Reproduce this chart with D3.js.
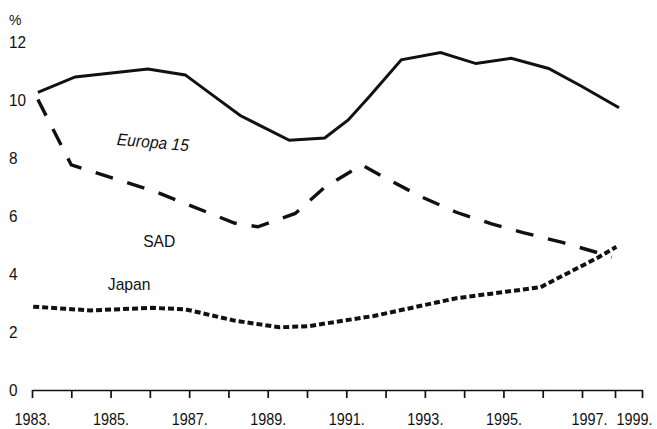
<!DOCTYPE html>
<html>

<head>
<meta charset="utf-8">
<style>
body { margin: 0; background: #fff; }
text { font-family: "Liberation Sans Narrow", "Arial Narrow", "Liberation Sans", sans-serif; fill: #111; }
.line { fill: none; stroke: #111; }
.axis path, .axis line { stroke: #111; stroke-width: 1.7; }
</style>
</head>


<body>

<div id="diagram"></div>

<script src="https://cdn.jsdelivr.net/npm/d3@7"></script>
<script>

var canvas_size = { width: 657, height: 429 };

// years (decimal) and unemployment rate in %
var europe_years = [ 1983.15, 1984.1, 1985.95, 1986.9, 1987.45, 1988.3, 1989.55, 1990.45, 1991.05, 1991.6, 1992.4, 1993.4, 1994.3, 1995.2, 1996.15, 1997.0, 1998.15 ];
var europe_values = [ 10.25, 10.78, 11.05, 10.85, 10.3, 9.45, 8.6, 8.68, 9.3, 10.12, 11.37, 11.62, 11.24, 11.42, 11.07, 10.45, 9.72 ];

var sad_years = [ 1983.15, 1984.0, 1986.1, 1988.15, 1988.75, 1989.7, 1990.45, 1991.4, 1992.05, 1992.9, 1993.8, 1994.7, 1995.5, 1996.5, 1997.5, 1997.9 ];
var sad_values = [ 10.0, 7.75, 6.85, 5.75, 5.62, 6.08, 6.98, 7.75, 7.26, 6.66, 6.12, 5.72, 5.42, 5.08, 4.72, 4.57 ];

var japan_years = [ 1983.03, 1984.5, 1986.05, 1986.9, 1988.15, 1989.3, 1990.05, 1990.75, 1991.7, 1993.8, 1995.95, 1996.1, 1997.45, 1998.05 ];
var japan_values = [ 2.87, 2.74, 2.83, 2.78, 2.39, 2.16, 2.2, 2.35, 2.55, 3.16, 3.54, 3.65, 4.54, 4.93 ];

var tick_years = d3.range( 1983, 2000 );
var label_years = [ 1983, 1985, 1987, 1989, 1991, 1993, 1995, 1997, 1999 ];
var y_ticks = [ 0, 2, 4, 6, 8, 10, 12 ];

var svg = null;
var x = null;
var y = null;


window.onload = function()
{
	svg = d3.select( '#diagram' )
		.append( 'svg:svg' )
			.attr( 'width', canvas_size.width )
			.attr( 'height', canvas_size.height );

	// the last two years sit closer together in the original
	x = d3.scaleLinear()
		.domain( [ 1983, 1997, 1998, 1999 ] )
		.range( [ 32, 582, 615, 642 ] );

	y = d3.scaleLinear()
		.domain( [ 0, 12 ] )
		.range( [ 390, 41.5 ] );

	draw_axes();

	draw_line( europe_years, europe_values, 3, null );
	draw_line( sad_years, sad_values, 3.4, '18,15' );
	draw_line( japan_years, japan_values, 4, '6,3' );

	draw_labels();
}


// no narrow font installed, so squeeze the glyphs instead
function condense( sel, f )
{
	sel.each( function()
	{
		var w = this.getComputedTextLength();
		d3.select( this )
			.attr( 'textLength', w * f )
			.attr( 'lengthAdjust', 'spacingAndGlyphs' );
	});
}


function draw_axes()
{
	var axis = d3.axisBottom( x )
		.tickValues( tick_years )
		.tickSize( 8 )
		.tickSizeOuter( 0 )
		.tickPadding( 16 )
		.tickFormat( function( d ) { return label_years.indexOf( d ) >= 0 ? d + '.' : ''; } );

	var g = svg.append( 'svg:g' )
		.attr( 'class', 'axis' )
		.attr( 'transform', 'translate(0,' + y(0) + ')' )
		.call( axis );

	var labels = g.selectAll( 'text' )
		.style( 'font-size', '16px' )
		.attr( 'fill', '#111' );
	g.attr( 'font-family', null );

	// 1997 and 1999 are crowded, nudge them apart from the edge
	labels.filter( function( d ) { return d == 1997; } ).attr( 'dx', 7 );
	labels.filter( function( d ) { return d == 1999; } ).attr( 'dx', -8 );

	condense( labels, 0.9 );

	var ylabels = svg.selectAll( '.ylabel' )
		.data( y_ticks )
		.enter()
		.append( 'svg:text' )
			.attr( 'class', 'ylabel' )
			.attr( 'x', 9 )
			.attr( 'y', function( d ) { return y(d); } )
			.attr( 'dy', '0.36em' )
			.style( 'font-size', '17px' )
			.text( function( d ) { return d; } );
	condense( ylabels, 0.9 );

	svg.append( 'svg:text' )
		.attr( 'x', 9 )
		.attr( 'y', 25 )
		.style( 'font-size', '14px' )
		.text( '%' );
}


function draw_line( years, values, width, dash )
{
	var line = d3.line()
		.x( function( d, i ) { return x( years[i] ); } )
		.y( function( d ) { return y( d ); } );

	svg.append( 'svg:path' )
		.datum( values )
		.attr( 'class', 'line' )
		.attr( 'stroke-width', width )
		.attr( 'stroke-dasharray', dash )
		.attr( 'd', line );
}


function draw_labels()
{
	var names = svg.append( 'svg:g' );

	names.append( 'svg:text' )
		.attr( 'transform', 'translate(' + x(1985.15) + ',' + y(8.44) + ') rotate(5)' )
		.style( 'font-size', '17px' )
		.style( 'font-style', 'italic' )
		.text( 'Europa 15' );

	names.append( 'svg:text' )
		.attr( 'x', x(1985.83) )
		.attr( 'y', y(4.92) )
		.style( 'font-size', '17px' )
		.text( 'SAD' );

	names.append( 'svg:text' )
		.attr( 'x', x(1984.93) )
		.attr( 'y', y(3.44) )
		.style( 'font-size', '17px' )
		.text( 'Japan' );

	condense( names.selectAll( 'text' ), 0.92 );
}

</script>


</body>
</html>
